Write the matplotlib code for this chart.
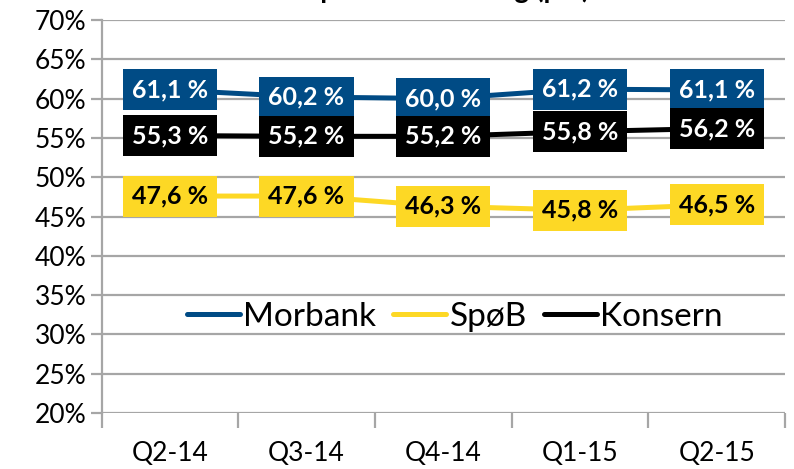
import matplotlib
matplotlib.use("Agg")
import matplotlib.pyplot as plt
from matplotlib.ticker import FixedLocator, FuncFormatter

plt.rcParams['font.family'] = ['Lato', 'DejaVu Sans']

quarters = ["Q2-14", "Q3-14", "Q4-14", "Q1-15", "Q2-15"]
morbank = [61.1, 60.2, 60.0, 61.2, 61.1]
spob = [47.6, 47.6, 46.3, 45.8, 46.5]
konsern = [55.3, 55.2, 55.2, 55.8, 56.2]

series = [
    ("Morbank", morbank, "#004B85", "white"),
    ("SpøB", spob, "#FDD825", "black"),
    ("Konsern", konsern, "#000000", "white"),
]

fig = plt.figure(figsize=(7.94, 4.69), dpi=100)
ax = fig.add_axes([101.5 / 794, 1 - 413 / 469, (785 - 101.5) / 794, 393 / 469])

x = list(range(len(quarters)))
for name, vals, col, tcol in series:
    ax.plot(x, vals, color=col, lw=3.6, label=name, solid_capstyle='round', zorder=3)
    for xi, v in zip(x, vals):
        lbl = f"{v:.1f} %".replace(".", ",")
        ax.text(xi, v, lbl, ha='center', va='center', fontsize=18, fontweight='bold',
                color=tcol, zorder=4,
                bbox=dict(boxstyle='square,pad=0.36', fc=col, ec='none'))

ax.set_ylim(20, 70)
ax.set_xlim(-0.5, len(quarters) - 0.5)
ax.yaxis.set_major_locator(FixedLocator(range(20, 71, 5)))
ax.yaxis.set_major_formatter(FuncFormatter(lambda v, p: f"{int(v)}%"))
ax.grid(axis='y', color='#A6A6A6', lw=1.6, zorder=0)
ax.set_axisbelow(True)

ax.set_xticks(x)
ax.set_xticklabels(quarters)
ax.set_xticks([i - 0.5 for i in range(len(quarters) + 1)], minor=True)
ax.tick_params(axis='x', which='major', length=0, labelsize=19, pad=20)
ax.tick_params(axis='x', which='minor', length=11, width=1.6, color='#A6A6A6')
ax.tick_params(axis='y', length=8, width=1.6, color='#A6A6A6', labelsize=19, pad=3)

for s in ['top', 'right', 'bottom']:
    ax.spines[s].set_visible(False)
ax.spines['left'].set_color('#A6A6A6')
ax.spines['left'].set_linewidth(1.6)

ax.legend(loc='center', bbox_to_anchor=(0.517, 0.245), ncol=3, frameon=False,
          fontsize=24, handlelength=1.6, handletextpad=0.1, columnspacing=0.5)

# title is mostly cut off at the top edge in the reference
fig.text(0.50, 1.0 + 2 / 469, "Kostnadsprosent utvikling (pst)", ha='center', va='baseline',
         fontsize=20, fontweight='bold')

fig.savefig("out.png", dpi=100)
